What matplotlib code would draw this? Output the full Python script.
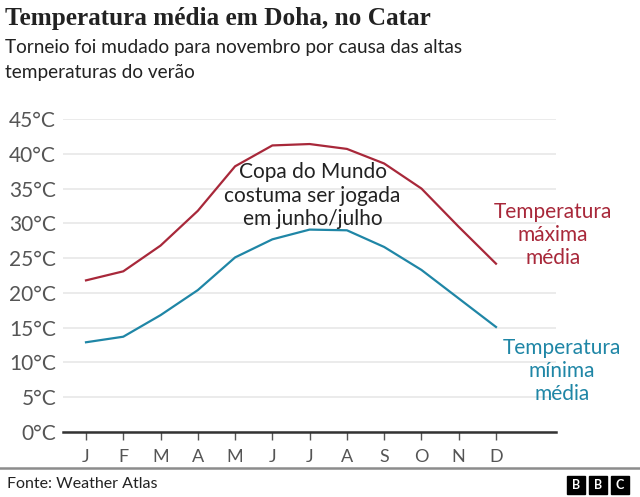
import numpy as np
import matplotlib.pyplot as plt
from matplotlib.patches import Rectangle

months = ["J", "F", "M", "A", "M", "J", "J", "A", "S", "O", "N", "D"]
temp_max = [21.8, 23.1, 26.8, 31.8, 38.2, 41.2, 41.4, 40.7, 38.6, 35.0, 29.5, 24.2]
temp_min = [12.9, 13.7, 16.8, 20.4, 25.1, 27.7, 29.1, 29.0, 26.6, 23.3, 19.2, 15.1]
y_ticks = [0, 5, 10, 15, 20, 25, 30, 35, 40, 45]

red = "#a8283a"
teal = "#1f86a6"
grey = "#555555"
dark = "#222222"

plt.rcParams['font.family'] = ['Lato', 'DejaVu Sans']

W, H = 640, 497
fig = plt.figure(figsize=(6.4, 4.97), dpi=100)
ax = fig.add_axes([63/W, 1-432/H, (556-63)/W, (432-119)/H])

x = np.arange(len(months))
ax.plot(x, temp_max, color=red, lw=1.6, clip_on=False)
ax.plot(x, temp_min, color=teal, lw=1.6, clip_on=False)

# J at 86px, D at 496px
ax.set_xlim(-23/37.27, 11 + 60/37.27)
ax.set_ylim(0, 45)
ax.set_yticks(y_ticks)
ax.set_yticklabels([f"{v}°C" for v in y_ticks], fontsize=15, color=grey)
ax.set_xticks(x)
ax.set_xticklabels(months, fontsize=13, color=grey)
ax.tick_params(axis='y', length=0, pad=5)
ax.tick_params(axis='x', length=6, color=grey, width=1, pad=6)
ax.grid(axis='y', color="#e8e8e8", lw=1.2)
ax.set_axisbelow(True)
for s in ['top', 'right', 'left']:
    ax.spines[s].set_visible(False)
ax.spines['bottom'].set_color("#333333")
ax.spines['bottom'].set_linewidth(1.8)

ax.text(6.08, 34.0, "Copa do Mundo\ncostuma ser jogada\nem junho/julho", ha='center', va='center',
        fontsize=15, color=dark, linespacing=1.2)
ax.text((553-86)/37.27, (432-235)/6.95, "Temperatura\nmáxima\nmédia", ha='center', va='center',
        fontsize=15, color=red, linespacing=1.2, clip_on=False)
ax.text((562-86)/37.27, (432-371)/6.95, "Temperatura\nmínima\nmédia", ha='center', va='center',
        fontsize=15, color=teal, linespacing=1.2, clip_on=False)

fig.text(5/W, 1-18/H, "Temperatura média em Doha, no Catar", fontsize=18.2, family='Liberation Serif',
         weight='bold', color=dark, va='center', ha='left')
fig.text(5/W, 1-48/H, "Torneio foi mudado para novembro por causa das altas",
         fontsize=13.7, color=dark, va='center', ha='left')
fig.text(5/W, 1-72/H, "temperaturas do verão",
         fontsize=13.7, color=dark, va='center', ha='left')

fig.add_artist(plt.Line2D([0, 1], [1-468/H, 1-468/H], color="#8c8c8c", lw=1.8))
fig.text(7/W, 1-484/H, "Fonte: Weather Atlas", fontsize=11.5, color=dark, va='center', ha='left')

for i, letter in enumerate("BBC"):
    x0 = 567 + i*22
    fig.add_artist(Rectangle((x0/W, 1-494/H), 18/W, 18/H, color="black", transform=fig.transFigure))
    fig.text((x0+9)/W, 1-485/H, letter, fontsize=9, weight='bold', color='white', ha='center', va='center')

fig.savefig("out.png", dpi=100)
